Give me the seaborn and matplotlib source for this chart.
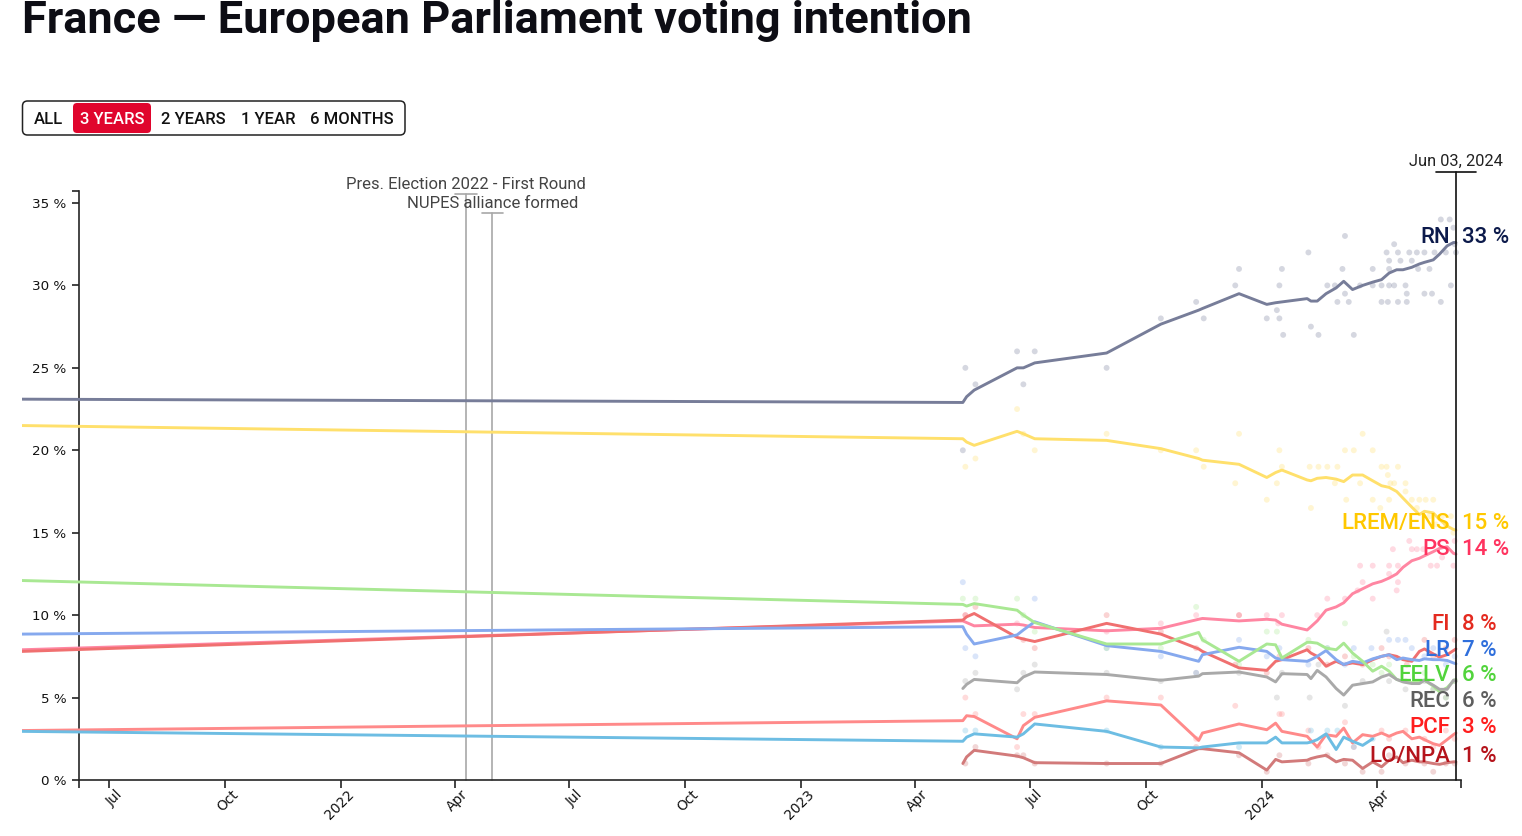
import numpy as np
import pandas as pd
import matplotlib
matplotlib.use("Agg")
import matplotlib.pyplot as plt
import matplotlib.dates as mdates
import matplotlib.patches as mpatches
import matplotlib.transforms as mtransforms
import seaborn as sns

# polling average, one value per party at each date
DATES = ["2021-04-23", "2023-05-09", "2023-05-12", "2023-05-18", "2023-06-21", "2023-06-26",
         "2023-07-05", "2023-08-31", "2023-10-13", "2023-11-12", "2023-11-15", "2023-12-14",
         "2024-01-05", "2024-01-12", "2024-01-17", "2024-02-06", "2024-02-09", "2024-02-14",
         "2024-02-21", "2024-02-29", "2024-03-06", "2024-03-13", "2024-03-21", "2024-03-29",
         "2024-04-05", "2024-04-11", "2024-04-17", "2024-04-22", "2024-04-29", "2024-05-05",
         "2024-05-09", "2024-05-16", "2024-05-21", "2024-05-27", "2024-06-01", "2024-06-03"]
nan = np.nan
RN = [23.1, 22.9, 23.25, 23.65, 25.0, 25.0, 25.3, 25.9, 27.65, 28.5, 28.6, 29.5,
      28.85, 28.95, 29.0, 29.2, 29.05, 29.05, 29.5, 29.85, 30.25, 29.75, 30.0, 30.2,
      30.35, 30.75, 30.95, 30.95, 31.1, 31.3, 31.4, 31.55, 31.9, 32.4, 32.6, 32.6]
LREM = [21.5, 20.7, 20.5, 20.3, 21.15, 21.0, 20.7, 20.6, 20.1, 19.5, 19.4, 19.15,
        18.35, 18.65, 18.8, 18.2, 18.15, 18.3, 18.35, 18.25, 18.1, 18.5, 18.5, 18.15,
        17.85, 17.75, 17.5, 17.1, 16.55, 16.1, 16.3, 16.2, 15.8, 15.4, 15.2, 15.15]
PS = [7.9, 9.65, 9.55, 9.35, 9.45, 9.4, 9.25, 9.05, 9.2, 9.75, 9.8, 9.65,
      9.75, 9.7, 9.45, 9.1, 9.3, 9.65, 10.3, 10.5, 10.75, 11.3, 11.6, 11.9,
      12.05, 12.25, 12.5, 12.9, 13.3, 13.45, 13.6, 13.85, 14.05, 14.15, 13.75, 13.7]
FI = [7.8, 9.7, 9.9, 10.1, 8.65, 8.55, 8.4, 9.5, 8.85, 7.95, 7.8, 6.8,
      6.65, 7.2, 7.3, 7.9, 7.7, 7.5, 6.9, 7.2, 7.0, 7.1, 7.0, 7.3,
      7.5, 7.6, 7.5, 7.3, 7.2, 7.8, 7.95, 7.65, 7.45, 7.6, 7.85, 7.95]
LR = [8.85, 9.3, 8.85, 8.25, 8.8, 9.1, 9.6, 8.15, 7.8, 7.2, 7.6, 8.05,
      7.8, 7.4, 7.3, 7.2, 7.3, 7.5, 7.85, 7.3, 7.0, 7.2, 7.1, 7.35,
      7.5, 7.6, 7.3, 7.4, 7.3, 7.25, 7.35, 7.3, 7.3, 7.25, 7.1, 7.05]
EELV = [12.1, 10.65, 10.55, 10.7, 10.3, 10.0, 9.55, 8.25, 8.25, 8.95, 8.5, 7.2,
        8.25, 8.2, 7.4, 8.35, 8.35, 8.3, 8.0, 7.9, 8.3, 7.7, 7.2, 6.6,
        6.9, 6.6, 6.1, 6.0, 5.9, 6.0, 6.05, 5.7, 5.35, 5.6, 6.0, 6.1]
REC = [nan, 5.55, 5.8, 6.1, 5.9, 6.25, 6.55, 6.4, 6.05, 6.3, 6.45, 6.55,
       6.25, 5.95, 6.45, 6.4, 6.15, 6.65, 6.25, 5.55, 5.15, 5.75, 5.85, 5.95,
       6.25, 6.4, 6.1, 5.95, 5.85, 5.85, 6.05, 5.75, 5.5, 5.5, 6.05, 6.0]
PCF = [3.0, 3.6, 3.9, 3.85, 2.5, 3.3, 3.8, 4.8, 4.55, 2.4, 2.85, 3.4,
       3.05, 3.45, 2.95, 2.65, 2.4, 2.0, 2.75, 2.65, 3.15, 2.25, 2.75, 2.65,
       2.85, 2.65, 2.85, 2.95, 2.5, 2.6, 2.45, 2.2, 2.1, 2.45, 2.75, 2.85]
LO_NPA = [nan, 1.0, 1.4, 1.8, 1.45, 1.35, 1.05, 1.0, 1.0, 1.9, 1.9, 1.65,
          0.6, 1.25, 1.1, 1.2, 1.3, 1.4, 1.5, 1.1, 1.25, 1.2, 0.7, 1.1,
          0.8, 1.2, 1.4, 1.05, 1.2, 1.1, 1.1, 1.0, 0.95, 1.05, 1.1, 1.1]
DLF = [2.95, 2.35, 2.6, 2.8, 2.6, 2.8, 3.4, 2.95, 2.0, 1.95, 2.0, 2.25,
       2.25, 2.6, 2.25, 2.25, 2.3, 2.45, 2.8, 1.85, 2.6, 2.35, 2.1, 2.5,
       nan, nan, nan, nan, nan, nan, nan, nan, nan, nan, nan, nan]

# individual polls (date, share)
RN_POLLS = [("2023-05-09", 20), ("2023-05-11", 25), ("2023-05-19", 24), ("2023-06-21", 26),
            ("2023-06-26", 24), ("2023-07-05", 26), ("2023-08-31", 25), ("2023-10-13", 28),
            ("2023-11-10", 29), ("2023-11-16", 28), ("2023-12-11", 30), ("2023-12-14", 31),
            ("2024-01-05", 28), ("2024-01-13", 28.5), ("2024-01-15", 30), ("2024-01-15", 28),
            ("2024-01-17", 31), ("2024-01-18", 27), ("2024-02-07", 32), ("2024-02-09", 27.5),
            ("2024-02-15", 27), ("2024-02-22", 30), ("2024-02-28", 30), ("2024-03-01", 29),
            ("2024-03-05", 31), ("2024-03-07", 33), ("2024-03-07", 29.5), ("2024-03-10", 29),
            ("2024-03-14", 27), ("2024-03-19", 30), ("2024-03-29", 31), ("2024-03-29", 30),
            ("2024-04-05", 30), ("2024-04-05", 29), ("2024-04-10", 29), ("2024-04-11", 30),
            ("2024-04-11", 31), ("2024-04-11", 31.5), ("2024-04-09", 32), ("2024-04-15", 32.5),
            ("2024-04-18", 32), ("2024-04-18", 29), ("2024-04-15", 30), ("2024-04-20", 31.5),
            ("2024-04-24", 30), ("2024-04-25", 29.5), ("2024-04-25", 29), ("2024-04-27", 32),
            ("2024-04-29", 31.5), ("2024-05-03", 32), ("2024-05-04", 31), ("2024-05-09", 32),
            ("2024-05-09", 29.5), ("2024-05-13", 31), ("2024-05-15", 29.5), ("2024-05-17", 32),
            ("2024-05-22", 29), ("2024-05-26", 32), ("2024-05-30", 30), ("2024-05-22", 34),
            ("2024-05-29", 34), ("2024-06-01", 33.5), ("2024-06-02", 32.5), ("2024-06-03", 32)]
LREM_POLLS = [("2023-05-11", 19), ("2023-05-19", 19.5), ("2023-06-21", 22.5), ("2023-06-26", 21),
              ("2023-07-05", 20), ("2023-08-31", 21), ("2023-10-13", 20), ("2023-11-10", 20),
              ("2023-11-16", 19), ("2023-12-11", 18), ("2023-12-14", 21), ("2024-01-05", 17),
              ("2024-01-13", 18), ("2024-01-15", 20), ("2024-01-17", 19), ("2024-02-08", 19),
              ("2024-02-09", 16.5), ("2024-02-15", 19), ("2024-02-22", 19), ("2024-02-28", 18),
              ("2024-03-01", 19), ("2024-03-07", 20), ("2024-03-08", 17), ("2024-03-14", 20),
              ("2024-03-19", 18), ("2024-03-21", 21), ("2024-03-29", 20), ("2024-03-29", 17),
              ("2024-04-04", 16.5), ("2024-04-05", 19), ("2024-04-09", 19), ("2024-04-10", 18.5),
              ("2024-04-11", 17), ("2024-04-12", 18), ("2024-04-15", 18), ("2024-04-18", 19),
              ("2024-04-24", 18), ("2024-04-24", 17.5), ("2024-04-29", 17), ("2024-05-03", 16.5),
              ("2024-05-05", 17), ("2024-05-10", 17), ("2024-05-13", 16), ("2024-05-16", 17),
              ("2024-05-18", 15.5), ("2024-05-23", 16), ("2024-05-26", 15.5), ("2024-05-30", 16),
              ("2024-06-01", 15)]
PS_POLLS = [("2023-05-11", 10), ("2023-06-21", 9.5), ("2023-08-31", 9), ("2023-10-13", 9.5),
            ("2023-11-10", 10), ("2023-12-14", 10), ("2024-01-05", 10), ("2024-01-14", 9.5),
            ("2024-01-17", 10), ("2024-02-14", 10), ("2024-02-22", 11), ("2024-03-07", 11),
            ("2024-03-17", 11.5), ("2024-03-19", 13), ("2024-03-21", 12), ("2024-03-29", 11),
            ("2024-03-29", 13), ("2024-04-11", 12.5), ("2024-04-11", 13), ("2024-04-14", 14),
            ("2024-04-17", 11.5), ("2024-04-18", 12), ("2024-04-18", 13), ("2024-04-27", 14.5),
            ("2024-04-29", 14), ("2024-05-03", 14), ("2024-05-08", 14), ("2024-05-14", 13),
            ("2024-05-19", 13), ("2024-05-23", 13.5), ("2024-06-01", 13), ("2024-06-02", 14.5)]
FI_POLLS = [("2023-05-11", 10), ("2023-05-19", 10.5), ("2023-06-26", 8.5), ("2023-07-05", 8),
            ("2023-08-31", 10), ("2023-10-13", 9), ("2023-11-10", 8), ("2023-12-11", 7),
            ("2023-12-14", 10), ("2024-01-05", 6.5), ("2024-01-15", 7.5), ("2024-02-07", 8),
            ("2024-02-22", 7), ("2024-03-07", 7.5), ("2024-03-21", 7), ("2024-04-05", 8),
            ("2024-04-11", 7.5), ("2024-04-25", 7), ("2024-05-09", 8.5), ("2024-05-16", 7.5),
            ("2024-05-26", 8), ("2024-06-02", 8.5)]
LR_POLLS = [("2023-05-09", 12), ("2023-05-11", 8), ("2023-05-19", 7.5), ("2023-07-05", 11),
            ("2023-08-31", 8), ("2023-10-13", 7.5), ("2023-11-10", 6.5), ("2023-12-14", 8.5),
            ("2024-01-05", 7.5), ("2024-01-15", 8), ("2024-02-07", 7), ("2024-02-22", 8),
            ("2024-03-07", 7), ("2024-03-14", 8), ("2024-03-28", 8), ("2024-04-11", 8.5),
            ("2024-04-18", 8.5), ("2024-04-24", 8.5), ("2024-04-29", 8), ("2024-05-09", 7.5),
            ("2024-05-16", 8), ("2024-05-26", 7), ("2024-06-02", 7.5)]
EELV_POLLS = [("2023-05-09", 11), ("2023-05-19", 11), ("2023-06-21", 11), ("2023-06-26", 10),
              ("2023-07-05", 9), ("2023-08-31", 8), ("2023-10-13", 8), ("2023-11-10", 10.5),
              ("2023-11-16", 8.5), ("2023-12-14", 7), ("2024-01-05", 9), ("2024-01-13", 9),
              ("2024-02-07", 8.5), ("2024-02-22", 8), ("2024-03-07", 9.5), ("2024-03-14", 7.5),
              ("2024-03-29", 7), ("2024-04-05", 6.5), ("2024-04-11", 7), ("2024-04-24", 6),
              ("2024-05-09", 6.5), ("2024-05-16", 5.5), ("2024-05-26", 5), ("2024-06-02", 6)]
REC_POLLS = [("2023-05-11", 6), ("2023-05-19", 6.5), ("2023-06-21", 5.5), ("2023-06-26", 6.5),
             ("2023-07-05", 7), ("2023-08-31", 6.5), ("2023-10-13", 6), ("2023-11-10", 6.5),
             ("2023-12-14", 6.5), ("2024-01-13", 5), ("2024-01-17", 6.5), ("2024-02-08", 5),
             ("2024-02-15", 7), ("2024-03-07", 4.5), ("2024-03-21", 6), ("2024-04-09", 9),
             ("2024-04-11", 6), ("2024-04-24", 5.5), ("2024-05-09", 6), ("2024-05-16", 5.5),
             ("2024-05-26", 5), ("2024-06-02", 6)]
PCF_POLLS = [("2023-05-11", 5), ("2023-05-19", 4), ("2023-06-21", 2), ("2023-06-26", 4),
             ("2023-07-05", 4), ("2023-08-31", 5), ("2023-10-13", 5), ("2023-11-10", 2.5),
             ("2023-12-11", 4.5), ("2024-01-15", 4), ("2024-01-17", 4), ("2024-02-07", 3),
             ("2024-02-15", 2), ("2024-03-07", 3.5), ("2024-03-14", 2), ("2024-04-05", 3),
             ("2024-04-11", 2.5), ("2024-04-24", 3), ("2024-05-09", 2.5), ("2024-05-16", 2),
             ("2024-05-26", 3), ("2024-06-02", 2.5)]
LO_NPA_POLLS = [("2023-05-11", 1), ("2023-05-19", 2), ("2023-06-21", 1.5), ("2023-06-26", 1.5),
                ("2023-07-05", 1), ("2023-08-31", 1), ("2023-10-13", 1), ("2023-11-10", 2),
                ("2023-12-14", 1.5), ("2024-01-05", 0.5), ("2024-01-15", 1.5), ("2024-02-07", 1),
                ("2024-02-22", 1.5), ("2024-03-07", 1), ("2024-03-21", 0.5), ("2024-04-05", 0.5),
                ("2024-04-11", 1.5), ("2024-04-24", 1), ("2024-05-09", 1), ("2024-05-16", 0.5),
                ("2024-05-26", 1), ("2024-06-02", 1)]
DLF_POLLS = [("2023-05-11", 3), ("2023-05-19", 3), ("2023-08-31", 3), ("2023-10-13", 2),
             ("2023-12-14", 2), ("2024-02-09", 3), ("2024-02-22", 3), ("2024-03-01", 3),
             ("2024-03-14", 2), ("2024-03-29", 2.5)]

PARTIES = ["RN", "LREM/ENS", "PS", "FI", "LR", "EELV", "REC", "PCF", "LO/NPA", "DLF"]
SERIES = [RN, LREM, PS, FI, LR, EELV, REC, PCF, LO_NPA, DLF]
POLLS = [RN_POLLS, LREM_POLLS, PS_POLLS, FI_POLLS, LR_POLLS, EELV_POLLS, REC_POLLS,
         PCF_POLLS, LO_NPA_POLLS, DLF_POLLS]
LABELLED = PARTIES[:9]

LINE_COLORS = {"RN": "#777d99", "LREM/ENS": "#ffe06c", "PS": "#ff86a2", "FI": "#f07070",
               "LR": "#86a9ee", "EELV": "#a9e893", "REC": "#a9a9a9", "PCF": "#ff8a8a",
               "LO/NPA": "#d27a7a", "DLF": "#6dbde3"}
TEXT_COLORS = {"RN": "#0c1a4b", "LREM/ENS": "#ffc800", "PS": "#ff335f", "FI": "#e42a1f",
               "LR": "#2f6fdc", "EELV": "#52d43c", "REC": "#5e5e5e", "PCF": "#ff1e1e",
               "LO/NPA": "#b5141c"}

EVENTS = [("2022-04-10", "Pres. Election 2022 - First Round", 35.55),
          ("2022-05-01", "NUPES alliance formed", 34.4)]
LAST_DATE = "2024-06-03"
X_START, X_AXIS, X_END = "2021-04-23", "2021-06-07", "2024-06-07"
Y_MAX = 35.7

W, H = 1522, 836


def spread_labels(values, gap):
    # merge overlapping labels into clusters centred on their mean value
    order = sorted(range(len(values)), key=lambda i: values[i])
    clusters = [[i] for i in order]
    while True:
        pos = []
        for c in clusters:
            m = np.mean([values[i] for i in c])
            pos.append([m - (len(c) - 1) * gap / 2 + k * gap for k in range(len(c))])
        merged = False
        for j in range(len(clusters) - 1):
            if pos[j][-1] + gap > pos[j + 1][0] + 1e-9:
                clusters[j] = clusters[j] + clusters.pop(j + 1)
                merged = True
                break
        if not merged:
            break
    out = {}
    for c, p in zip(clusters, pos):
        for i, y in zip(c, p):
            out[i] = y
    return out


def main():
    sns.set_style("white")
    plt.rcParams["font.family"] = ["DejaVu Sans"]

    lines = pd.DataFrame(
        [(pd.Timestamp(d), p, v) for p, s in zip(PARTIES, SERIES) for d, v in zip(DATES, s)],
        columns=["date", "party", "share"]).dropna()
    polls = pd.DataFrame(
        [(pd.Timestamp(d), p, v) for p, pl in zip(PARTIES, POLLS) for d, v in pl],
        columns=["date", "party", "share"])

    fig = plt.figure(figsize=(W / 100, H / 100), dpi=100)
    ax = fig.add_axes([22 / W, 1 - 780 / H, (1461 - 22) / W, Y_MAX * 16.486 / H])

    sns.scatterplot(data=polls, x="date", y="share", hue="party", palette=LINE_COLORS,
                    s=18, linewidth=0, alpha=0.3, legend=False, ax=ax, zorder=1)
    sns.lineplot(data=lines, x="date", y="share", hue="party", palette=LINE_COLORS,
                 estimator=None, sort=False, linewidth=2.1, legend=False, ax=ax, zorder=3)

    ax.set_xlim(pd.Timestamp(X_START), pd.Timestamp(X_END))
    ax.set_ylim(0, Y_MAX)
    ax.set_xlabel("")
    ax.set_ylabel("")

    # axes styling
    for s in ["top", "right"]:
        ax.spines[s].set_visible(False)
    x_axis = mdates.date2num(pd.Timestamp(X_AXIS))
    x_end = mdates.date2num(pd.Timestamp(X_END))
    ax.spines["left"].set_position(("data", x_axis))
    ax.spines["left"].set_linewidth(1.2)
    ax.spines["bottom"].set_linewidth(1.2)
    ax.spines["bottom"].set_bounds(x_axis, x_end)

    ax.set_yticks(np.arange(0, 36, 5))
    ax.set_yticklabels([f"{v} %" for v in range(0, 36, 5)])
    ax.yaxis.set_minor_locator(matplotlib.ticker.FixedLocator([Y_MAX]))
    ax.xaxis.set_major_locator(mdates.MonthLocator(bymonth=[1, 4, 7, 10]))
    ax.xaxis.set_major_formatter(matplotlib.ticker.FuncFormatter(
        lambda x, _: mdates.num2date(x).strftime("%Y" if mdates.num2date(x).month == 1 else "%b")))
    ax.xaxis.set_minor_locator(matplotlib.ticker.FixedLocator([x_axis, x_end]))
    ax.tick_params(axis="y", which="both", length=5, width=1.1, pad=4, labelsize=9.7,
                   colors="#111111", left=True)
    ax.tick_params(axis="x", which="both", length=6, width=1.1, pad=3, labelsize=9.9,
                   colors="#111111", bottom=True)
    shift = mtransforms.ScaledTranslation(0.11, 0.0, fig.dpi_scale_trans)
    for lab in ax.get_xticklabels():
        lab.set_rotation(45)
        lab.set_rotation_mode("anchor")
        lab.set_ha("right")
        lab.set_va("center")
        lab.set_transform(lab.get_transform() + shift)

    ui = ["Roboto", "DejaVu Sans"]

    # event markers
    for d, text, top in EVENTS:
        t = pd.Timestamp(d)
        ax.plot([t, t], [0, top], color="#a8a8a8", lw=1.2, zorder=2, clip_on=False)
        ax.plot([t - pd.Timedelta(days=8.5), t + pd.Timedelta(days=8.5)], [top, top],
                color="#a8a8a8", lw=1.2, clip_on=False)
        ax.text(t, top + 0.58, text, ha="center", va="center", fontsize=12,
                color="#444444", family=ui, zorder=5)

    # current date marker
    t = pd.Timestamp(LAST_DATE)
    ax.plot([t, t], [0, 36.88], color="#111111", lw=1.2, zorder=4, clip_on=False)
    ax.plot([t - pd.Timedelta(days=16), t + pd.Timedelta(days=16)], [36.88, 36.88],
            color="#111111", lw=1.2, clip_on=False)
    ax.text(t, 37.55, pd.Timestamp(LAST_DATE).strftime("%b %d, %Y"), ha="center",
            va="center", fontsize=11.8, color="#222222", family=ui)

    # end labels
    last = [SERIES[PARTIES.index(p)][-1] for p in LABELLED]
    ypos = spread_labels(last, 1.55)
    for i, p in enumerate(LABELLED):
        c = TEXT_COLORS[p]
        ax.annotate(p, (t, ypos[i]), xytext=(-4.3, 0), textcoords="offset points",
                    ha="right", va="baseline", fontsize=16, color=c, family=ui,
                    weight="medium", annotation_clip=False, zorder=6)
        ax.annotate(f"{round(last[i])} %", (t, ypos[i]), xytext=(4.3, 0),
                    textcoords="offset points", ha="left", va="baseline", fontsize=16,
                    color=c, family=ui, weight="medium", annotation_clip=False, zorder=6)

    # title
    fig.text(22 / W, 1 - 33 / H, "France — European Parliament voting intention",
             ha="left", va="baseline", fontsize=32.5, weight="bold", color="#0d0d14",
             family=ui)

    # range buttons
    ident = mtransforms.IdentityTransform()
    fig.add_artist(mpatches.FancyBboxPatch((22.5, H - 135), 382.5, 34,
                   boxstyle="round,pad=0,rounding_size=5", fc="white", ec="#222222",
                   lw=1.1, transform=ident))
    fig.add_artist(mpatches.FancyBboxPatch((73, H - 133), 78, 30,
                   boxstyle="round,pad=0,rounding_size=4", fc="#e0052d", ec="none",
                   transform=ident))
    buttons = [("ALL", 48), ("3 YEARS", 112), ("2 YEARS", 193), ("1 YEAR", 268), ("6 MONTHS", 352)]
    for name, bx in buttons:
        fig.text(bx / W, 1 - 119 / H, name, ha="center", va="center", fontsize=12,
                 weight="medium", color="white" if name == "3 YEARS" else "#111111",
                 family=ui)

    fig.savefig("out.png", dpi=100, facecolor="white")


if __name__ == "__main__":
    main()
